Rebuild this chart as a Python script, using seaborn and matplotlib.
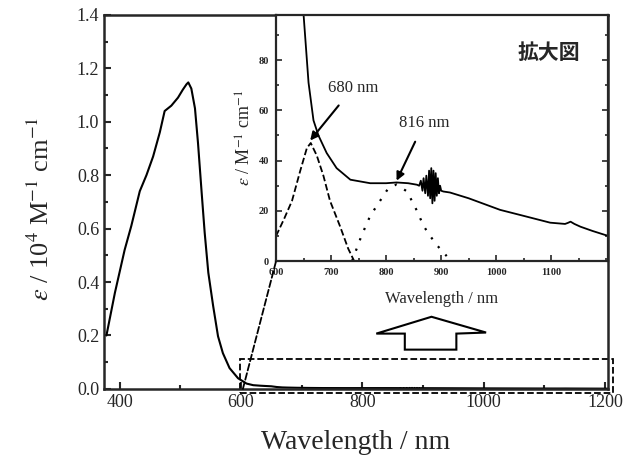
import matplotlib
matplotlib.use("Agg")
import matplotlib.pyplot as plt
import seaborn as sns
import numpy as np
from matplotlib.patches import Rectangle, Polygon, ConnectionPatch
from matplotlib.ticker import MultipleLocator

# main band, eps in 10^4 M-1 cm-1
band_wl = [378, 392, 408, 419, 433, 444, 455, 466, 474, 485, 496, 504, 510, 513, 518,
           524, 529, 535, 540, 546, 554, 562, 570, 581, 595, 609, 620, 632]
band_eps = [0.20, 0.36, 0.52, 0.61, 0.74, 0.80, 0.87, 0.96, 1.04, 1.06, 1.09, 1.12, 1.14, 1.147, 1.124,
            1.05, 0.92, 0.735, 0.585, 0.435, 0.31, 0.197, 0.134, 0.078, 0.04, 0.02, 0.014, 0.012]

# weak tail, eps in M-1 cm-1 (used by inset, and /1e4 in main)
tail_wl = [600, 615, 630, 640, 650, 659, 668, 677, 692, 710, 735, 771, 800, 819, 840, 856,
           860, 863, 866, 868, 871, 873, 876, 878, 880, 882, 884, 886, 888, 890, 892, 894, 896, 898, 900,
           904, 916, 950, 1007, 1050, 1098, 1125, 1130, 1135, 1142, 1153, 1175, 1198, 1205]
tail_eps = [250, 160, 125, 110, 98, 71, 56, 50, 43, 37, 32.4, 31, 31, 31.3, 31, 30.4,
            30, 32, 28, 33, 27, 34, 26, 36, 25, 37, 23, 36, 24, 35, 26, 33, 27, 30, 28,
            27.7, 27.3, 25, 20.4, 18, 15.3, 14.8, 15.2, 15.7, 14.8, 13.7, 12, 10.4, 10]

# fitted components
g680_wl = [600, 615, 629, 644, 656, 663, 674, 686, 698, 716, 731, 742]
g680_eps = [10, 17, 24, 36, 45, 47, 42, 34, 24, 14, 5, 0]
g816_wl = [738, 755, 771, 792, 804, 819, 838, 856, 868, 880, 892, 910]
g816_eps = [0, 10, 18, 25, 29, 30.5, 27.7, 20, 14, 10, 6.4, 2]

sns.set_style("ticks")
plt.rcParams['font.family'] = ['Liberation Serif', 'Noto Sans CJK JP']
plt.rcParams['mathtext.fontset'] = 'stix'

fig = plt.figure(figsize=(6.42, 4.63), dpi=100)
ax = fig.add_axes([0.162, 0.160, 0.785, 0.808])

tail_wl_a = np.array(tail_wl)
tail_eps_a = np.array(tail_eps)
keep = tail_wl_a > band_wl[-1]
main_wl = np.concatenate([band_wl, tail_wl_a[keep]])
main_eps = np.concatenate([band_eps, tail_eps_a[keep] / 1e4])

sns.lineplot(x=main_wl, y=main_eps, ax=ax, color='black', lw=1.5, sort=False, estimator=None)
ax.set_xlim(374, 1205)
ax.set_ylim(0, 1.4)
ax.xaxis.set_major_locator(MultipleLocator(200))
ax.xaxis.set_minor_locator(MultipleLocator(100))
ax.yaxis.set_major_locator(MultipleLocator(0.2))
ax.yaxis.set_minor_locator(MultipleLocator(0.1))
ax.yaxis.set_major_formatter(matplotlib.ticker.FormatStrFormatter('%.1f'))
ax.tick_params(which='both', direction='in', labelsize=13, width=1.5)
ax.tick_params(which='major', length=5)
ax.tick_params(which='minor', length=3)
for s in ax.spines.values():
    s.set_linewidth(1.8)
    s.set_visible(True)
ax.set_xlabel('Wavelength / nm', fontsize=20, labelpad=14)
ax.set_ylabel(r'$\varepsilon$ / 10$^4$ M$^{-1}$ cm$^{-1}$', fontsize=19)
ax.yaxis.set_label_coords(-0.10, 0.48)

# zoom box
ax.add_patch(Rectangle((598, -0.015), 615, 0.128, fill=False, ls='--', lw=1.3,
                       color='black', clip_on=False))

# hollow arrow
arrow = [(870, 0.147), (955, 0.147), (955, 0.207), (1004, 0.211), (914, 0.27),
         (823, 0.207), (870, 0.207)]
ax.add_patch(Polygon(arrow, closed=True, fill=False, lw=1.5, color='black'))

# inset
axins = fig.add_axes([0.430, 0.436, 0.517, 0.532])
sns.lineplot(x=tail_wl, y=tail_eps, ax=axins, color='black', lw=1.3, sort=False, estimator=None)
sns.lineplot(x=g680_wl, y=g680_eps, ax=axins, color='black', lw=1.3, ls='--', sort=False, estimator=None)
l816 = sns.lineplot(x=g816_wl, y=g816_eps, ax=axins, color='black', lw=1.6, sort=False, estimator=None)
l816.lines[-1].set_dashes([1, 4])
axins.set_xlim(600, 1203)
axins.set_ylim(0, 98)
axins.xaxis.set_major_locator(MultipleLocator(100))
axins.xaxis.set_minor_locator(MultipleLocator(50))
axins.yaxis.set_major_locator(MultipleLocator(20))
axins.yaxis.set_minor_locator(MultipleLocator(10))
axins.set_xticks([600, 700, 800, 900, 1000, 1100])
axins.tick_params(which='both', direction='in', labelsize=7.5, width=1.2, right=True)
axins.tick_params(which='major', length=4, pad=5)
axins.tick_params(which='minor', length=2)
for lab in axins.get_xticklabels() + axins.get_yticklabels():
    lab.set_fontweight('bold')
for s in axins.spines.values():
    s.set_linewidth(1.6)
    s.set_visible(True)
axins.set_xlabel('Wavelength / nm', fontsize=12, labelpad=10)
axins.set_ylabel(r'$\varepsilon$ / M$^{-1}$ cm$^{-1}$', fontsize=13, labelpad=3)

axins.annotate('680 nm', xy=(662, 48), xytext=(740, 69), fontsize=12, ha='center', va='center',
               arrowprops=dict(arrowstyle='-|>', color='black', lw=1.5, shrinkA=6, shrinkB=0))
axins.annotate('816 nm', xy=(819, 32), xytext=(869, 55), fontsize=12, ha='center', va='center',
               arrowprops=dict(arrowstyle='-|>', color='black', lw=1.5, shrinkA=6, shrinkB=0))
axins.text(1095, 83, '拡大図', fontsize=15, fontweight='bold', ha='center', va='center',
           family=['Noto Sans CJK JP', 'DejaVu Sans'])

con = ConnectionPatch(xyA=(603, 0), coordsA=ax.transData, xyB=(600, 0), coordsB=axins.transData,
                      ls='--', lw=1.3, color='black')
fig.add_artist(con)

fig.savefig('out.png', dpi=100)
